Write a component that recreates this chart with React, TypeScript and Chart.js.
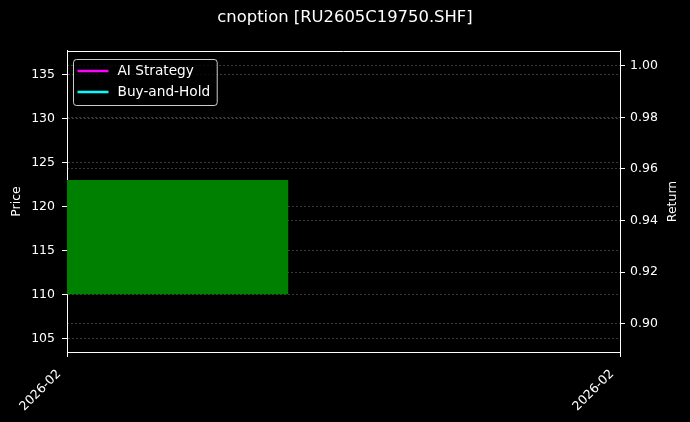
import { useEffect, useRef } from "react";
import Chart from "chart.js/auto";

const titleText = "cnoption [RU2605C19750.SHF]";
const xTickLabels = ["2026-02", "2026-02"];
const xTickPositions = [-0.2, 0.8];
const candleX = [0];
const candleOpen = [110];
const candleClose = [123];
const priceTicks = [105, 110, 115, 120, 125, 130, 135];
const returnTicks = [0.9, 0.92, 0.94, 0.96, 0.98, 1.0];
const strategyReturn: number[] = [];
const holdReturn: number[] = [];
const seriesLabels = ["AI Strategy", "Buy-and-Hold"];
const seriesColors = ["#ff00ff", "#00ffff"];
const priceLabel = "Price";
const returnLabel = "Return";

const FONT = "'DejaVu Sans', sans-serif";
const tickFont = { family: FONT, size: 12.5 };
const legendFontSize = 13.7;
const gridColor = "#3a3a3a";

const framePlugin = {
  id: "frameAndLegend",
  afterDraw(chart: any) {
    const { ctx, chartArea } = chart;
    ctx.save();
    // top spine
    ctx.strokeStyle = "#fff";
    ctx.lineWidth = 1;
    ctx.beginPath();
    ctx.moveTo(chartArea.left, Math.round(chartArea.top) + 0.5);
    ctx.lineTo(chartArea.right, Math.round(chartArea.top) + 0.5);
    ctx.stroke();

    // rotated x tick labels (matplotlib style: right end at the tick)
    const xs = chart.scales.x;
    ctx.font = `${tickFont.size}px ${FONT}`;
    ctx.fillStyle = "#fff";
    ctx.textAlign = "right";
    ctx.textBaseline = "middle";
    xTickPositions.forEach((v, i) => {
      const px = xs.getPixelForValue(v);
      ctx.save();
      ctx.translate(px - 8, chartArea.bottom + 20);
      ctx.rotate(-Math.PI / 4);
      ctx.fillText(xTickLabels[i], 0, 0);
      ctx.restore();
    });

    // right axis title, reading bottom to top
    ctx.save();
    ctx.textAlign = "center";
    ctx.translate(chart.width - 17, (chartArea.top + chartArea.bottom) / 2);
    ctx.rotate(-Math.PI / 2);
    ctx.fillText(returnLabel, 0, 0);
    ctx.restore();

    // legend box
    const items = chart.data.datasets.filter((d: any) => d.type === "line");
    ctx.font = `${legendFontSize}px ${FONT}`;
    ctx.textAlign = "left";
    const textW = Math.max(...items.map((d: any) => ctx.measureText(d.label).width));
    const x0 = Math.round(chartArea.left) + 6.5;
    const y0 = Math.round(chartArea.top) + 8.5;
    const w = 44 + textW + 7;
    const rowH = 21;
    const h = rowH * items.length + 4;
    ctx.fillStyle = "rgba(0,0,0,0.8)";
    ctx.strokeStyle = "rgba(255,255,255,0.8)";
    ctx.lineWidth = 1;
    ctx.beginPath();
    ctx.roundRect(x0, y0, w, h, 3);
    ctx.fill();
    ctx.stroke();
    items.forEach((d: any, i: number) => {
      const y = y0 + 11.5 + i * rowH;
      ctx.strokeStyle = d.borderColor;
      ctx.lineWidth = 2.5;
      ctx.beginPath();
      ctx.moveTo(x0 + 4, y);
      ctx.lineTo(x0 + 35, y);
      ctx.stroke();
      ctx.fillStyle = "#fff";
      ctx.fillText(d.label, x0 + 44, y);
    });
    ctx.restore();
  },
};

const CandleChart = () => {
  const canvasRef = useRef<HTMLCanvasElement | null>(null);
  const chartRef = useRef<Chart | null>(null);

  useEffect(() => {
    document.body.style.margin = "0";
    document.body.style.background = "#000";
    if (chartRef.current !== null) {
      chartRef.current.destroy();
    }
    if (canvasRef.current === null) return;

    chartRef.current = new Chart(canvasRef.current, {
      type: "bar",
      data: {
        datasets: [
          {
            type: "bar",
            label: "candle",
            data: candleX.map((x, i) => ({ x, y: [candleOpen[i], candleClose[i]] })) as any,
            backgroundColor: "#008000",
            borderWidth: 0,
            categoryPercentage: 0.4,
            barPercentage: 1,
            yAxisID: "y",
          },
          {
            type: "line",
            label: seriesLabels[0],
            data: strategyReturn,
            borderColor: seriesColors[0],
            borderWidth: 2,
            pointRadius: 0,
            yAxisID: "y1",
          },
          {
            type: "line",
            label: seriesLabels[1],
            data: holdReturn,
            borderColor: seriesColors[1],
            borderWidth: 2,
            pointRadius: 0,
            yAxisID: "y1",
          },
        ] as any,
      },
      options: {
        animation: false,
        responsive: false,
        devicePixelRatio: 1,
        layout: { padding: 0 },
        plugins: {
          legend: { display: false },
          tooltip: { enabled: false },
          title: {
            display: true,
            text: titleText,
            color: "#fff",
            font: { family: FONT, size: 16.4, weight: "normal" },
            padding: { top: 8, bottom: 23.3 },
          },
        },
        scales: {
          x: {
            type: "linear",
            min: xTickPositions[0],
            max: xTickPositions[xTickPositions.length - 1],
            offset: false,
            afterBuildTicks: (s: any) => {
              s.ticks = xTickPositions.map((v) => ({ value: v }));
            },
            afterFit: (s: any) => {
              s.height = 70;
            },
            ticks: { display: false },
            grid: {
              offset: false,
              drawOnChartArea: false,
              drawTicks: true,
              tickLength: 5,
              tickColor: "#fff",
            },
            border: { color: "#fff", width: 1 },
          },
          y: {
            type: "linear",
            position: "left",
            min: 103.44,
            max: 137.65,
            afterBuildTicks: (s: any) => {
              s.ticks = priceTicks.map((v) => ({ value: v }));
            },
            afterFit: (s: any) => {
              s.width = 67;
            },
            ticks: { color: "#fff", font: tickFont, padding: 7 },
            grid: { color: gridColor, tickColor: "#fff", tickLength: 5, lineWidth: 1 },
            border: { color: "#fff", width: 1, dash: [2, 2] },
            title: {
              display: true,
              text: priceLabel,
              color: "#fff",
              font: tickFont,
              padding: { top: 9.5, bottom: 0 },
            },
          },
          y1: {
            type: "linear",
            position: "right",
            min: 0.889,
            max: 1.0057,
            afterBuildTicks: (s: any) => {
              s.ticks = returnTicks.map((v) => ({ value: v }));
            },
            afterFit: (s: any) => {
              s.width = 70;
            },
            ticks: {
              color: "#fff",
              font: tickFont,
              padding: 5,
              callback: (v: any) => Number(v).toFixed(2),
            },
            grid: { color: gridColor, tickColor: "#fff", tickLength: 5, lineWidth: 1 },
            border: { color: "#fff", width: 1, dash: [2, 2] },
            title: { display: false },
          },
        },
      } as any,
      plugins: [framePlugin],
    });

    return () => {
      if (chartRef.current !== null) {
        chartRef.current.destroy();
        chartRef.current = null;
      }
    };
  }, []);

  return (
    <div style={{ width: 690, height: 422, background: "#000" }}>
      <canvas ref={canvasRef} width={690} height={422} />
    </div>
  );
};

export default function App() {
  return <CandleChart />;
}
